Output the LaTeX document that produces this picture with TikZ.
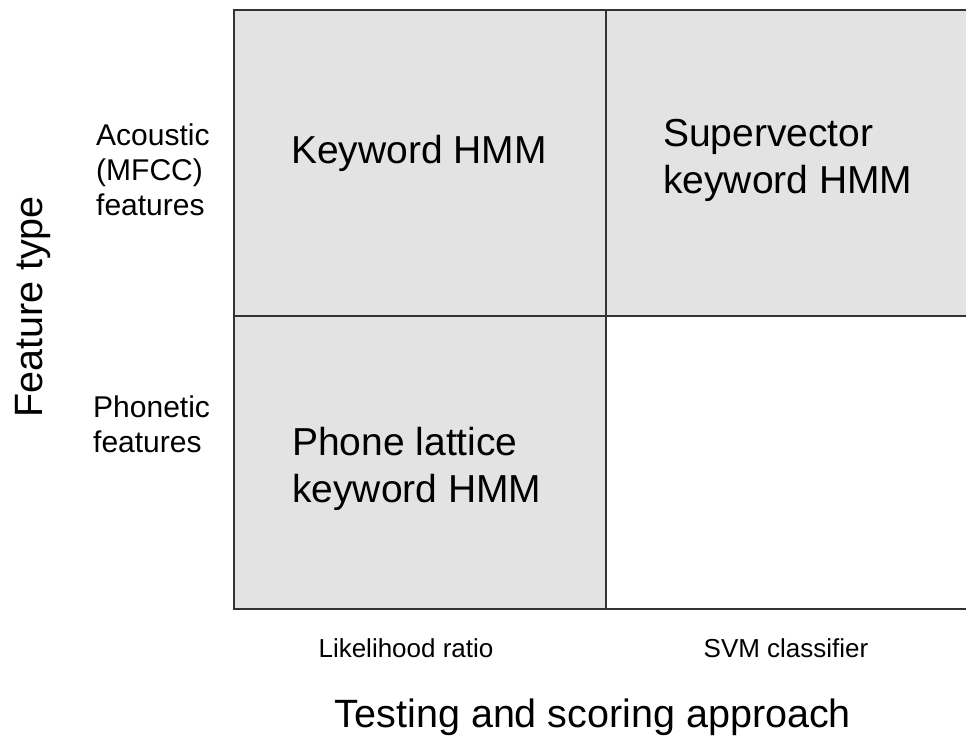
\documentclass[tikz,border=0pt]{standalone}
\usepackage{fontspec}
\setmainfont{Liberation Sans}
\definecolor{cellgray}{HTML}{E3E3E3}
\definecolor{gridline}{HTML}{333333}
\begin{document}
\begin{tikzpicture}[x=1pt,y=-1pt,
  bigtxt/.style={inner sep=0pt,anchor=base west,align=left,font=\fontsize{39}{47}\selectfont},
  rowlbl/.style={inner sep=0pt,anchor=base west,align=left,font=\fontsize{30}{35}\selectfont},
  collbl/.style={inner sep=0pt,anchor=base,font=\fontsize{26}{30}\selectfont},
  axislbl/.style={inner sep=0pt,anchor=base,font=\fontsize{39.5}{46}\selectfont}]
\useasboundingbox (0,0) rectangle (966,740);
% cells
\fill[cellgray] (234,10) rectangle (966,316);
\fill[cellgray] (234,316) rectangle (606,609);
\draw[gridline,line width=1.5pt] (966,10) -- (234,10) -- (234,609) -- (966,609);
\draw[gridline,line width=1.5pt] (234,316) -- (966,316);
\draw[gridline,line width=1.5pt] (606,10) -- (606,609);
% cell texts (base anchor = last line's baseline)
\node[bigtxt] (kw) at (291,163) {Keyword HMM};
\node[bigtxt] (sv) at (663,193) {Supervector\\keyword HMM};
\node[bigtxt] (pl) at (292,502) {Phone lattice\\keyword HMM};
% row labels
\node[rowlbl] (ac) at (96,215) {Acoustic\\(MFCC)\\features};
\node[rowlbl] (ph) at (93,452) {Phonetic\\features};
% column labels
\node[collbl] (lr) at (406,657) {Likelihood ratio};
\node[collbl] (svm) at (786,657) {SVM classifier};
% axis labels
\node[axislbl] (xax) at (593,727) {Testing and scoring approach};
\node[axislbl,rotate=90] (yax) at (42,307) {Feature type};
\end{tikzpicture}
\end{document}
